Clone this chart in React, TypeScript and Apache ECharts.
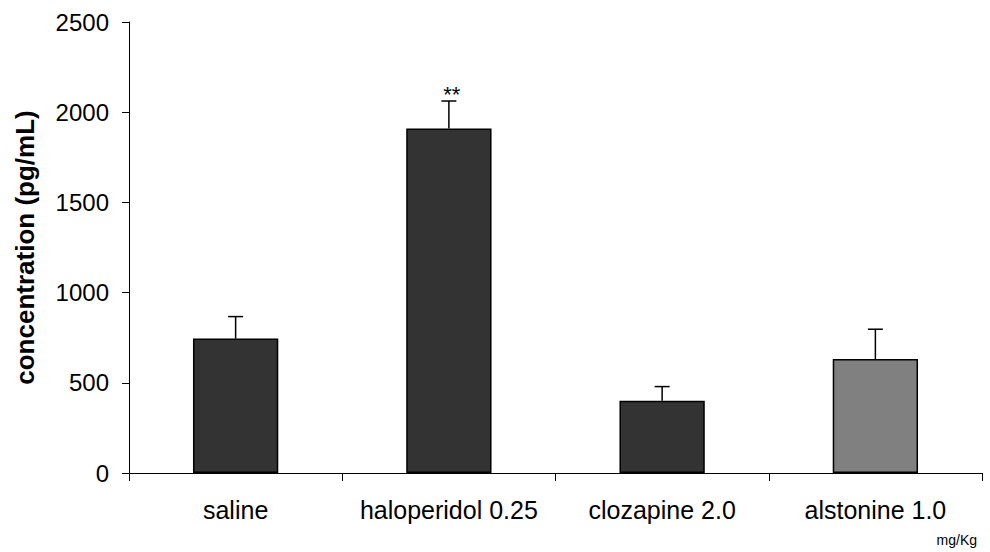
import React, { useEffect, useRef } from "react";
import * as echarts from "echarts";

// Groups (dose in mg/Kg) and measured concentration, pg/mL
const categories = ["saline", "haloperidol 0.25", "clozapine 2.0", "alstonine 1.0"];
const means = [745, 1910, 401, 632];
const sem = [122, 152, 78, 165];
const significance = ["", "**", "", ""];
const barColors = ["#333333", "#333333", "#333333", "#808080"];
const yTicks = { min: 0, max: 2500, interval: 500 };

const FONT = 'Arial, "Liberation Sans", Helvetica, sans-serif';

export default function App() {
  const ref = useRef<HTMLDivElement>(null);

  useEffect(() => {
    if (!ref.current) return;
    const chart = echarts.init(ref.current, null, { renderer: "svg" });

    const errorData = means.map((m, i) => [i, m, m + sem[i]]);

    chart.setOption({
      animation: false,
      backgroundColor: "#ffffff",
      textStyle: { fontFamily: FONT },
      grid: { left: 129, right: 8, top: 22, bottom: 79, containLabel: false },
      xAxis: {
        type: "category",
        data: categories,
        axisLine: { show: true, lineStyle: { color: "#000", width: 1 } },
        axisTick: { show: true, length: 8, interval: 0, lineStyle: { color: "#000" } },
        axisLabel: { color: "#000", fontSize: 25, margin: 24, interval: 0, fontFamily: FONT },
        splitLine: { show: false },
      },
      yAxis: {
        type: "value",
        min: yTicks.min,
        max: yTicks.max,
        interval: yTicks.interval,
        name: "concentration (pg/mL)",
        nameLocation: "middle",
        nameGap: 91,
        nameTextStyle: { color: "#000", fontSize: 26, fontWeight: "bold", fontFamily: FONT },
        axisLine: { show: true, lineStyle: { color: "#000", width: 1 } },
        axisTick: { show: true, length: 7, lineStyle: { color: "#000" } },
        axisLabel: {
          color: "#000",
          fontSize: 24,
          margin: 20,
          fontFamily: FONT,
          formatter: (v: number) => String(v),
        },
        splitLine: { show: false },
      },
      series: [
        {
          type: "bar",
          barWidth: "40%",
          data: means.map((v, i) => ({
            value: v,
            itemStyle: { color: barColors[i], borderColor: "#000", borderWidth: 1.5 },
          })),
        },
        {
          type: "custom",
          data: errorData,
          z: 5,
          renderItem: (params: any, api: any) => {
            const idx = api.value(0);
            const base = api.coord([idx, api.value(1)]);
            const top = api.coord([idx, api.value(2)]);
            const half = 7.5;
            const children: any[] = [
              {
                type: "line",
                shape: { x1: base[0], y1: base[1], x2: top[0], y2: top[1] },
                style: { stroke: "#000", lineWidth: 1.5 },
              },
              {
                type: "line",
                shape: { x1: top[0] - half, y1: top[1], x2: top[0] + half, y2: top[1] },
                style: { stroke: "#000", lineWidth: 1.5 },
              },
            ];
            const mark = significance[params.dataIndex];
            if (mark) {
              children.push({
                type: "text",
                x: top[0] + 3,
                y: top[1] + 4,
                style: {
                  text: mark,
                  fill: "#000",
                  fontSize: 22,
                  fontFamily: FONT,
                  align: "center",
                  verticalAlign: "bottom",
                },
              });
            }
            return { type: "group", children };
          },
        },
      ],
      graphic: [
        {
          type: "text",
          right: 13,
          top: 533,
          style: { text: "mg/Kg", fill: "#000", fontSize: 14, fontFamily: FONT },
        },
      ],
    });

    return () => chart.dispose();
  }, []);

  return <div ref={ref} style={{ width: 990, height: 552, position: "absolute", left: 0, top: 0 }} />;
}
